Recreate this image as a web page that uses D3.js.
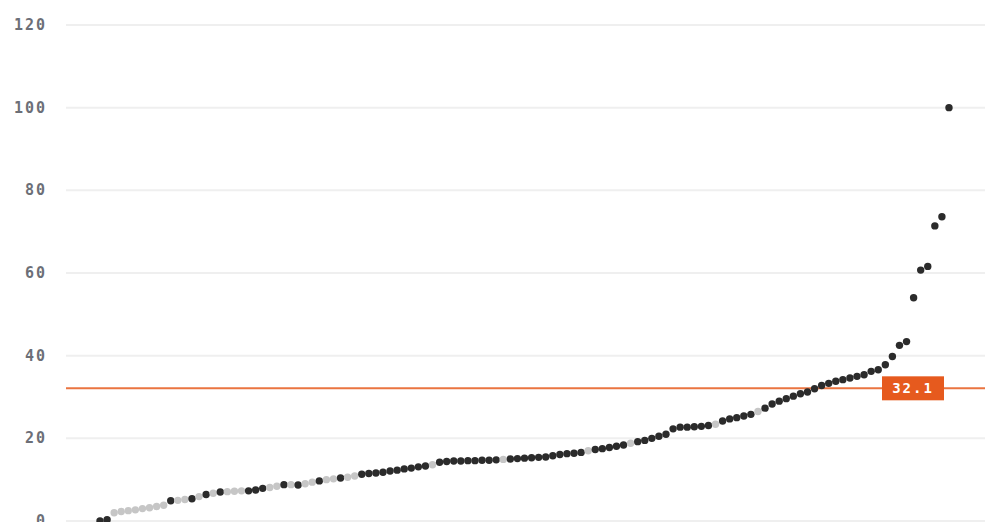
<!DOCTYPE html>
<html>
<head>
<meta charset="utf-8">
<script src="https://cdn.jsdelivr.net/npm/d3@7"></script>
<style>
  body { margin: 0; background: #fff; }
  .tick-label { font-family: "DejaVu Sans Mono", monospace; font-weight: bold; font-size: 15px; fill: #6c6f77; letter-spacing: 2px; }
  .avg-label { font-family: "DejaVu Sans Mono", monospace; font-weight: bold; font-size: 14px; fill: #fff; letter-spacing: 2px; }
</style>
</head>
<body>
<div id="plot-area"></div>
<script>
// sorted values, one per entry
var values = [
  0, 0.3, 2.0, 2.3, 2.5, 2.7, 3.0, 3.2, 3.5, 3.8,
  4.9, 5.0, 5.2, 5.4, 5.9, 6.4, 6.7, 7.0, 7.1, 7.2,
  7.3, 7.3, 7.5, 7.9, 8.1, 8.4, 8.8, 8.8, 8.7, 9.0,
  9.4, 9.7, 10.0, 10.2, 10.4, 10.6, 10.9, 11.3, 11.5, 11.6,
  11.8, 12.1, 12.3, 12.6, 12.8, 13.1, 13.3, 13.6, 14.2, 14.4,
  14.5, 14.5, 14.6, 14.6, 14.7, 14.7, 14.8, 14.9, 15.0, 15.1,
  15.2, 15.3, 15.4, 15.5, 15.8, 16.1, 16.3, 16.4, 16.6, 17.0,
  17.3, 17.5, 17.8, 18.1, 18.4, 18.8, 19.2, 19.5, 20.0, 20.5,
  21.0, 22.3, 22.7, 22.7, 22.8, 22.9, 23.1, 23.4, 24.2, 24.7,
  25.0, 25.4, 25.8, 26.5, 27.3, 28.3, 29.0, 29.6, 30.2, 30.8,
  31.2, 32.0, 32.8, 33.3, 33.8, 34.2, 34.6, 35.0, 35.4, 36.2,
  36.6, 37.8, 39.8, 42.5, 43.4, 54.0, 60.7, 61.6, 71.4, 73.6,
  100
]

// entries drawn in light grey instead of dark
var greyIdx = [2, 3, 4, 5, 6, 7, 8, 9, 11, 12, 14, 16, 18, 19, 20, 24, 25, 27, 29, 30,
               32, 33, 35, 36, 47, 57, 69, 75, 87, 93]

var yTicks = [0, 20, 40, 60, 80, 100, 120]
var average = 32.1
var averageLabel = "32.1"

var width = 996
var height = 522

var plotSVG = d3.select("#plot-area").append('svg')
    .attr('width', width)
    .attr('height', height)

var xScale = d3.scaleLinear()
    .domain([0, values.length - 1])
    .range([100, 949])

var yScale = d3.scaleLinear()
    .domain([0, 120])
    .range([521, 25])

// gridlines
plotSVG.append('g').selectAll('line')
    .data(yTicks).enter()
    .append('line')
    .attr('x1', 66)
    .attr('x2', 985)
    .attr('y1', function(d){ return yScale(d) })
    .attr('y2', function(d){ return yScale(d) })
    .attr('stroke', '#efefef')
    .attr('stroke-width', 2)

plotSVG.append('g').selectAll('text')
    .data(yTicks).enter()
    .append('text')
    .attr('class', 'tick-label')
    .attr('x', 47)
    .attr('y', function(d){ return yScale(d) + 5 })
    .attr('text-anchor', 'end')
    .text(function(d){ return d })

// average line
plotSVG.append('line')
    .attr('x1', 66)
    .attr('x2', 985)
    .attr('y1', yScale(average))
    .attr('y2', yScale(average))
    .attr('stroke', '#ea7440')
    .attr('stroke-width', 2)

plotSVG.append('g').selectAll('circle')
    .data(values).enter()
    .append('circle')
    .attr('cx', function(d, i){ return xScale(i) })
    .attr('cy', function(d){ return yScale(d) })
    .attr('r', 3.7)
    .attr('fill', function(d, i){
        if (greyIdx.indexOf(i) >= 0) {
            return '#c6c6c6'
        }
        return '#2b2b2b'
    })

// average label box
var boxRight = 944
plotSVG.append('rect')
    .attr('x', boxRight - 62)
    .attr('y', yScale(average) - 12)
    .attr('width', 62)
    .attr('height', 24)
    .attr('fill', '#e65a1e')

plotSVG.append('text')
    .attr('class', 'avg-label')
    .attr('x', boxRight - 31)
    .attr('y', yScale(average) + 5)
    .attr('text-anchor', 'middle')
    .text(averageLabel)
</script>
</body>
</html>
